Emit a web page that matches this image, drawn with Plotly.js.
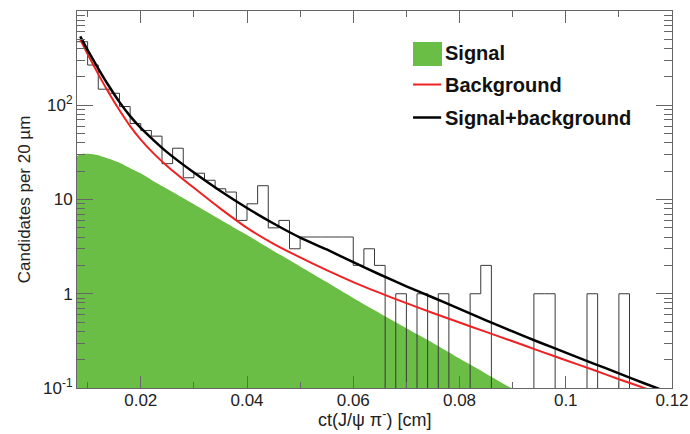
<!DOCTYPE html>
<html>
<head>
<meta charset="utf-8">
<script src="https://cdn.plot.ly/plotly-3.0.1.min.js"></script>
<style>html,body{margin:0;padding:0;background:#fff;}#chart{width:690px;height:434px;}</style>
</head>
<body>
<div id="chart"></div>
<script>
// Histogram: candidates per 20 um bin, first bin starts at ct = 0.008 cm
const binStart = 0.008;
const binWidth = 0.002;
const counts = [472,267,148,134,97,64,54,47,24,35,
                17,19,16,13,12,6,9,14,5,6,
                3,4,4,4,4,4,2,3,2,0,
                1,0,1,0,1,0,0,1,2,0,
                0,0,0,1,1,0,0,0,1,0,
                0,1,0,0,0,0];

// Signal fit component
const sigX = [0.008,0.009,0.010,0.012,0.014,0.016,0.018,0.020,0.0225,0.025,0.030,0.035,0.040,0.045,0.050,0.055,0.060,0.065,0.070,0.075,0.080,0.085,0.090,0.092];
const sigY = [29,30.5,30.5,29.5,27,24.5,21.5,19,15.5,12.9,8.9,6.1,4.2,2.85,1.95,1.33,0.9,0.62,0.43,0.3,0.205,0.142,0.098,0.085];

// Background and total (signal+background) fit
const fitX = [0.0086,0.010,0.012,0.014,0.016,0.018,0.020,0.0225,0.025,0.030,0.035,0.040,0.045,0.050,0.055,0.060,0.065,0.070,0.075,0.080,0.085,0.090,0.095,0.100,0.105,0.110,0.115,0.120];
const bkgY = [501,349,214,135,88.5,60.1,43.2,30.5,22.6,13.3,8.0,5.0,3.39,2.43,1.78,1.33,1.02,0.794,0.624,0.495,0.394,0.313,0.248,0.197,0.157,0.124,0.099,0.0785];
const totY = [537,385,245,160,108,76.7,57.5,42.2,31.6,19.3,12.3,8.13,5.56,3.94,2.95,2.16,1.60,1.20,0.912,0.692,0.522,0.398,0.306,0.237,0.184,0.143,0.111,0.087];

const xTickVals = [0.02,0.04,0.06,0.08,0.10,0.12];
const xTickText = ['0.02','0.04','0.06','0.08','0.1','0.12'];
const yTickVals = [0.1,1,10,100,1000];
const yTickText = ['10<sup>-1</sup>','1','10','10<sup>2</sup>','10<sup>3</sup>'];

const xTitle = 'ct(J/ψ π<sup>-</sup>) [cm]';
const yTitle = 'Candidates per 20 µm';
const legendNames = ['Signal','Background','Signal+background'];

// build step histogram
const histX = [], histY = [];
for (let i = 0; i < counts.length; i++) {
  histX.push(binStart + i*binWidth);
  histY.push(counts[i] > 0 ? counts[i] : 1e-4);
}
histX.push(binStart + counts.length*binWidth);
histY.push(histY[histY.length-1]);

const GREEN = '#6abd45', RED = '#ee2222', BLACK = '#000000';
const FONT = 'Liberation Sans, Arial, sans-serif';

const traces = [
  {x: sigX, y: sigY, type: 'scatter', mode: 'lines', name: legendNames[0],
   fill: 'tozeroy', fillcolor: GREEN, line: {width: 0, color: GREEN, shape: 'spline', smoothing: 0.6}, hoverinfo: 'skip'},
  {x: histX, y: histY, type: 'scatter', mode: 'lines', name: 'Data',
   line: {shape: 'hv', color: '#3a3a3a', width: 1}},
  {x: fitX, y: bkgY, type: 'scatter', mode: 'lines', name: legendNames[1],
   line: {color: RED, width: 2, shape: 'spline', smoothing: 0.6}},
  {x: fitX, y: totY, type: 'scatter', mode: 'lines', name: legendNames[2],
   line: {color: BLACK, width: 2.5, shape: 'spline', smoothing: 0.6}}
];

// manual legend (paper coordinates)
const lx0 = 0.5647, lx1 = 0.6120, tx = 0.6151;
const rowY = [0.8873, 0.805, 0.7175];
const shapes = [
  {type: 'rect', xref: 'paper', yref: 'paper', x0: lx0, x1: 0.6134, y0: 0.8541, y1: 0.9178,
   fillcolor: GREEN, line: {width: 0}},
  {type: 'line', xref: 'paper', yref: 'paper', x0: lx0, x1: lx1, y0: rowY[1], y1: rowY[1],
   line: {color: RED, width: 2}},
  {type: 'line', xref: 'paper', yref: 'paper', x0: lx0, x1: lx1, y0: rowY[2], y1: rowY[2],
   line: {color: BLACK, width: 2.5}}
];
const annotations = legendNames.map((n, i) => ({
  xref: 'paper', yref: 'paper', x: tx, y: rowY[i], xanchor: 'left', yanchor: 'middle',
  text: '<b>' + n + '</b>', showarrow: false, font: {family: FONT, size: 20, color: '#111'}
}));
// x-axis title placed just under the tick labels
annotations.push({
  xref: 'paper', yref: 'paper', x: 0.5, y: -0.082, xanchor: 'center', yanchor: 'middle',
  text: xTitle, showarrow: false, font: {family: FONT, size: 18, color: '#222'}
});

const axisCommon = {
  showline: true, linecolor: '#666', linewidth: 1, mirror: 'allticks',
  ticks: 'inside', tickcolor: '#666', showgrid: false, zeroline: false,
  tickfont: {family: FONT, size: 17, color: '#222'}
};

const layout = {
  width: 690, height: 434,
  margin: {l: 77, r: 18, t: 11, b: 46},
  paper_bgcolor: '#fff', plot_bgcolor: '#fff',
  showlegend: false,
  xaxis: Object.assign({}, axisCommon, {
    range: [0.008, 0.12], tickvals: xTickVals, ticktext: xTickText, ticklen: 12,
    ticklabelstandoff: -3,
    minor: {dtick: 0.01, tick0: 0, ticklen: 6, tickcolor: '#666', ticks: 'inside'}
  }),
  yaxis: Object.assign({}, axisCommon, {
    type: 'log', range: [-1, 3], tickvals: yTickVals, ticktext: yTickText, ticklen: 16,
    minor: {dtick: 'D1', ticklen: 8, tickcolor: '#666', ticks: 'inside'},
    title: {text: yTitle, font: {family: FONT, size: 17, color: '#222'}, standoff: 8}
  }),
  shapes: shapes,
  annotations: annotations
};

Plotly.newPlot('chart', traces, layout, {displayModeBar: false, staticPlot: true});
</script>
</body>
</html>
